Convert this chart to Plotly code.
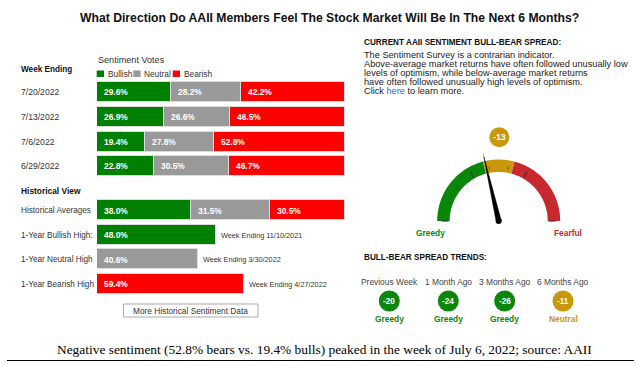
import math
import plotly.graph_objects as go

W, H = 641, 366

# ---------------- data ----------------
weeks = ["7/20/2022", "7/13/2022", "7/6/2022", "6/29/2022"]
week_bullish = [29.6, 26.9, 19.4, 22.8]
week_neutral = [28.2, 26.6, 27.8, 30.5]
week_bearish = [42.2, 46.5, 52.8, 46.7]

hist_labels = ["Historical Averages", "1-Year Bullish High:", "1-Year Neutral High", "1-Year Bearish High"]
hist_bullish = [38.0, 48.0, None, None]
hist_neutral = [31.5, None, 40.6, None]
hist_bearish = [30.5, None, None, 59.4]
hist_high_dates = [None, "Week Ending 11/10/2021", "Week Ending 3/30/2022", "Week Ending 4/27/2022"]

current_spread = -13
gauge_min, gauge_max = -90, 90
neutral_band = 15
gauge_ticks = [-90, -70, -50, -30, -10, 10, 30, 50, 70, 90]

trend_labels = ["Previous Week", "1 Month Ago", "3 Months Ago", "6 Months Ago"]
trend_values = [-20, -24, -26, -11]

# ---------------- styles ----------------
FONT = "Liberation Sans, Arial, sans-serif"
GREEN, GRAY, RED = "#008000", "#999999", "#ff0000"
G_GREEN, G_GOLD, G_RED = "#0a870a", "#c9960c", "#c9282e"
TXT = "#333333"


def px(x):
    return x / W


def py(y):
    return 1 - y / H


def zone(v):
    if v < -neutral_band:
        return G_GREEN, "Greedy"
    if v > neutral_band:
        return G_RED, "Fearful"
    return G_GOLD, "Neutral"


fig = go.Figure()
BW = 0.81
EDGE = dict(color="#dcdcdc", width=1)

# weekly stacked bars
for vals, col in ((week_bullish, GREEN), (week_neutral, GRAY), (week_bearish, RED)):
    fig.add_trace(go.Bar(y=weeks, x=vals, orientation="h", marker=dict(color=col, line=EDGE),
                         width=BW, xaxis="x", yaxis="y", hoverinfo="skip"))

# historical bars
for vals, col in ((hist_bullish, GREEN), (hist_neutral, GRAY), (hist_bearish, RED)):
    fig.add_trace(go.Bar(y=hist_labels, x=vals, orientation="h", marker=dict(color=col, line=EDGE),
                         width=BW, xaxis="x2", yaxis="y2", hoverinfo="skip"))

ann = []
shapes = []


def text(x, y, t, size=8.4, color=TXT, bold=False, xanchor="left", family=FONT, xref="paper", yref="paper", xshift=0):
    if bold:
        t = "<b>" + t + "</b>"
    ann.append(dict(x=x, y=y, xref=xref, yref=yref, text=t, showarrow=False,
                    xanchor=xanchor, yanchor="middle", xshift=xshift,
                    font=dict(size=size, color=color, family=family)))


# bar value labels and row labels
for i, wk in enumerate(weeks):
    base = 0
    for v in (week_bullish[i], week_neutral[i], week_bearish[i]):
        text(base, wk, f"{v:.1f}%", size=8.4, color="white", bold=True, xref="x", yref="y", xshift=5)
        base += v
    text(px(19), wk, wk, size=8.6, xref="paper", yref="y")

for i, lab in enumerate(hist_labels):
    base = 0
    for v in (hist_bullish[i], hist_neutral[i], hist_bearish[i]):
        if v is None:
            continue
        text(base, lab, f"{v:.1f}%", size=8.4, color="white", bold=True, xref="x2", yref="y2", xshift=5)
        base += v
    if hist_high_dates[i]:
        text(base, lab, hist_high_dates[i], size=7.3, xref="x2", yref="y2", xshift=3)
    text(px(19), lab, lab, size=8.2, xref="paper", yref="y2")

# headers
text(px(329), py(18), "What Direction Do AAII Members Feel The Stock Market Will Be In The Next 6 Months?",
     size=12.2, color="#111", bold=True, xanchor="center")
text(px(19), py(69.5), "Week Ending", size=8.2, color="#111", bold=True)
text(px(96), py(60), "Sentiment Votes", size=9.1)
text(px(19), py(190.5), "Historical View", size=8.4, color="#111", bold=True)

# legend
for x0, col, lab in ((96.7, GREEN, "Bullish"), (133.3, GRAY, "Neutral"), (172.7, RED, "Bearish")):
    shapes.append(dict(type="rect", xref="paper", yref="paper", x0=px(x0), x1=px(x0 + 7.3), y0=py(77),
                       y1=py(70.5), fillcolor=col, line=dict(width=0)))
    text(px(x0 + 9), py(73.7), lab, size=8.3)

# button
shapes.append(dict(type="rect", xref="paper", yref="paper", x0=px(123.5), x1=px(258), y0=py(317), y1=py(304),
                   fillcolor="white", line=dict(color="#aaaaaa", width=1)))
text(px(190.5), py(310.7), "More Historical Sentiment Data", size=8.3, xanchor="center")

# right panel text
text(px(362), py(42), "CURRENT AAII SENTIMENT BULL-BEAR SPREAD:", size=8.2, color="#111", bold=True)
lines = [
    "The Sentiment Survey is a contrarian indicator.",
    "Above-average market returns have often followed unusually low",
    "levels of optimism, while below-average market returns",
    "have often followed unusually high levels of optimism.",
    "Click <span style='color:#1f6fc5'>here</span> to learn more.",
]
for k, ln in enumerate(lines):
    text(px(362), py(55 + 9 * k), ln, size=9.2, color="#222")

# gauge
CX, CY, R_OUT, R_IN = 498.7, 221.0, 61.5, 49.0


def ang(v):
    return math.radians(180 - (v - gauge_min) / (gauge_max - gauge_min) * 180)


def pt(r, a):
    return CX + r * math.cos(a), CY - r * math.sin(a)


def arc_path(v0, v1):
    n = 40
    a0, a1 = ang(v0), ang(v1)
    outer = [pt(R_OUT, a0 + (a1 - a0) * k / n) for k in range(n + 1)]
    inner = [pt(R_IN, a1 + (a0 - a1) * k / n) for k in range(n + 1)]
    pts = outer + inner
    return "M " + " L ".join(f"{px(x):.5f},{py(y):.5f}" for x, y in pts) + " Z"


for v0, v1, col in ((gauge_min, -neutral_band, G_GREEN), (-neutral_band, neutral_band, G_GOLD),
                    (neutral_band, gauge_max, G_RED)):
    shapes.append(dict(type="path", xref="paper", yref="paper", path=arc_path(v0, v1), fillcolor=col,
                       line=dict(width=0)))

for t in gauge_ticks:
    a = ang(t)
    long_ = abs(t) in (30, 90)
    r0 = R_IN + (1 if long_ else 3)
    r1 = R_IN + (8 if long_ else 6)
    x0, y0 = pt(r0, a)
    x1, y1 = pt(r1, a)
    shapes.append(dict(type="line", xref="paper", yref="paper", x0=px(x0), y0=py(y0), x1=px(x1), y1=py(y1),
                       line=dict(color="rgba(50,50,50,0.75)" if long_ else "rgba(70,70,70,0.5)", width=1.5)))

# needle
a = ang(current_spread)
tipx, tipy = pt(66, a)
ext_x, ext_y = pt(69, a)
shapes.append(dict(type="line", xref="paper", yref="paper", x0=px(tipx), y0=py(tipy), x1=px(ext_x), y1=py(ext_y),
                   line=dict(color="rgba(120,120,120,0.6)", width=1)))
perp = a + math.pi / 2
b1 = (CX + 2.6 * math.cos(perp), CY - 2.6 * math.sin(perp))
b2 = (CX - 2.6 * math.cos(perp), CY + 2.6 * math.sin(perp))
shapes.append(dict(type="path", xref="paper", yref="paper",
                   path=f"M {px(b1[0]):.5f},{py(b1[1]):.5f} L {px(tipx):.5f},{py(tipy):.5f} "
                        f"L {px(b2[0]):.5f},{py(b2[1]):.5f} Z",
                   fillcolor="black", line=dict(color="black", width=0.5)))
shapes.append(dict(type="circle", xref="paper", yref="paper", x0=px(CX - 3), x1=px(CX + 3), y0=py(CY + 3),
                   y1=py(CY - 3), fillcolor="black", line=dict(width=0)))

# current value bubble
ccol, _ = zone(current_spread)
shapes.append(dict(type="circle", xref="paper", yref="paper", x0=px(489.3), x1=px(509.3), y0=py(147.3),
                   y1=py(127.3), fillcolor=ccol, line=dict(width=0)))
text(px(499.3), py(137.5), f"{current_spread}", size=8.8, color="white", bold=True, xanchor="center")

text(px(431), py(232.7), "Greedy", size=8.4, color=G_GREEN, bold=True, xanchor="center")
text(px(568), py(232.7), "Fearful", size=8.4, color=G_RED, bold=True, xanchor="center")

# trends
text(px(362), py(257.3), "BULL-BEAR SPREAD TRENDS:", size=8.2, color="#111", bold=True)
trend_x = [389.3, 448.3, 504.7, 563.0]
for lab, v, x in zip(trend_labels, trend_values, trend_x):
    col, word = zone(v)
    text(px(x), py(282.3), lab, size=8.4, color="#444", xanchor="center")
    shapes.append(dict(type="circle", xref="paper", yref="paper", x0=px(x - 10.5), x1=px(x + 10.5),
                       y0=py(311.5), y1=py(290.5), fillcolor=col, line=dict(width=0)))
    text(px(x), py(301), f"{v}", size=8.2, color="white", bold=True, xanchor="center")
    text(px(x), py(319), word, size=8.4, color=col, bold=True, xanchor="center")

# caption and rule
text(px(325), py(349.5),
     "Negative sentiment (52.8% bears vs. 19.4% bulls) peaked in the week of July 6, 2022; source: AAII",
     size=13.4, color="black", xanchor="center", family="Liberation Serif, Times New Roman, serif")
shapes.append(dict(type="line", xref="paper", yref="paper", x0=px(7), x1=px(634), y0=py(360.5), y1=py(360.5),
                   line=dict(color="black", width=1)))

axis_hidden = dict(visible=False, fixedrange=True)
fig.update_layout(
    width=W, height=H, margin=dict(l=0, r=0, t=0, b=0),
    paper_bgcolor="white", plot_bgcolor="rgba(0,0,0,0)",
    barmode="stack", showlegend=False, bargap=0,
    xaxis=dict(domain=[px(97), px(345.3)], range=[0, 100], anchor="y", **axis_hidden),
    yaxis=dict(domain=[py(178.6), py(80)], type="category", categoryorder="array",
               categoryarray=weeks[::-1], range=[-0.5, 3.5], anchor="x", **axis_hidden),
    xaxis2=dict(domain=[px(97), px(345.3)], range=[0, 100], anchor="y2", **axis_hidden),
    yaxis2=dict(domain=[py(296.6), py(198.4)], type="category", categoryorder="array",
                categoryarray=hist_labels[::-1], range=[-0.5, 3.5], anchor="x2", **axis_hidden),
    annotations=ann, shapes=shapes,
    font=dict(family=FONT),
)

fig.write_html("out.html", config={"displayModeBar": False},
               post_script="document.body.style.margin='0';document.body.style.overflow='hidden';")
